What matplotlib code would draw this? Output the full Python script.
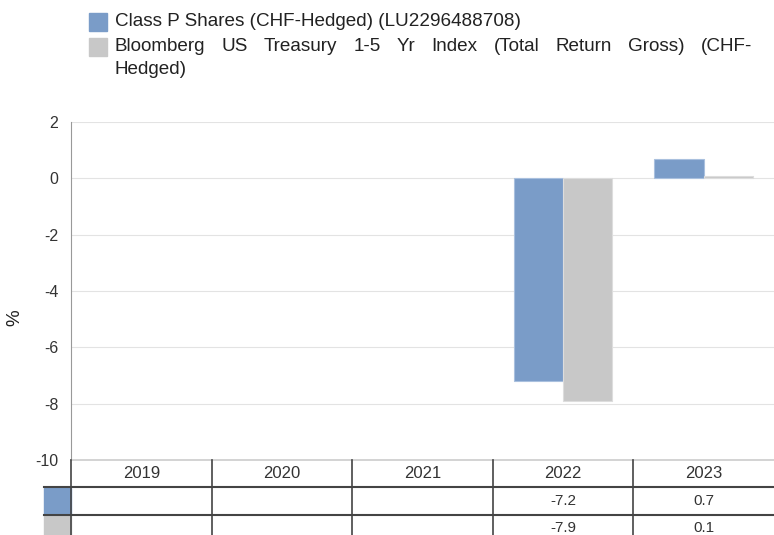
import numpy as np
import matplotlib.pyplot as plt
from matplotlib.patches import Rectangle

plt.rcParams['font.family'] = ['Liberation Sans', 'DejaVu Sans']

# data
years = ['2019', '2020', '2021', '2022', '2023']
fund_label = 'Class P Shares (CHF-Hedged) (LU2296488708)'
index_label = ['Bloomberg US Treasury 1-5 Yr Index (Total Return Gross) (CHF-', 'Hedged)']
fund_vals = [np.nan, np.nan, np.nan, -7.2, 0.7]
index_vals = [np.nan, np.nan, np.nan, -7.9, 0.1]
yticks = [2, 0, -2, -4, -6, -8, -10]

blue = '#7a9cc8'
grey = '#c8c8c8'
line_c = '#444444'

W, H = 774, 535
fig = plt.figure(figsize=(W / 100, H / 100), dpi=100)


def px(x0, y0, x1, y1):
    # pixel box (top-left origin) -> figure fraction rect
    return [x0 / W, 1 - y1 / H, (x1 - x0) / W, (y1 - y0) / H]


ax = fig.add_axes(px(71, 122, 774, 460))
x = np.arange(len(years))
bw = 0.35
ax.bar(x - bw / 2, fund_vals, bw, color=blue, edgecolor='#a9c0de', linewidth=0.8, zorder=3)
ax.bar(x + bw / 2, index_vals, bw, color=grey, edgecolor='#dddddd', linewidth=0.8, zorder=3)
ax.set_xlim(-0.5, len(years) - 0.5)
ax.set_ylim(-10, 2)
ax.set_yticks(yticks)
ax.set_yticklabels([str(v) for v in yticks], fontsize=11.5, color='#333333')
ax.set_xticks([])
ax.grid(axis='y', color='#e3e3e3', linewidth=0.8, zorder=0)
for s in ['top', 'right']:
    ax.spines[s].set_visible(False)
ax.spines['left'].set_color('#999999')
ax.spines['bottom'].set_color('#cccccc')
ax.spines['bottom'].set_linewidth(1.2)
ax.tick_params(axis='y', length=0, pad=9)
fig.text(15 / W, 1 - 318 / H, '%', rotation=90, fontsize=13.5, ha='center', va='center', color='#222222')

# table under the chart
tab = fig.add_axes(px(71, 460, 774, 542))
tab.set_xlim(-0.5, len(years) - 0.5)
tab.set_ylim(3, 0)
tab.axis('off')
for i, yr in enumerate(years):
    tab.text(i, 0.5, yr, ha='center', va='center', fontsize=12, color='#333333')
    for r, vals in enumerate([fund_vals, index_vals]):
        v = vals[i]
        if not np.isnan(v):
            tab.text(i, r + 1.5, f'{v:.1f}', ha='center', va='center', fontsize=11, color='#333333')
for b in np.arange(-0.5, len(years) - 1, 1.0):
    tab.plot([b, b], [0, 3], color=line_c, linewidth=1.2, clip_on=False)
sw = 27 / 140.6
for r in [1, 2]:
    tab.plot([-0.5 - sw, len(years) - 0.5], [r, r], color=line_c, linewidth=1.5, clip_on=False)
tab.add_patch(Rectangle((-0.5 - sw, 1.03), sw, 0.94, color=blue, clip_on=False))
tab.add_patch(Rectangle((-0.5 - sw, 2.03), sw, 0.94, color=grey, clip_on=False))

# legend drawn by hand
for yc, col in [(22, blue), (47, grey)]:
    fig.patches.append(Rectangle((89 / W, 1 - (yc + 9) / H), 18 / W, 18 / H, color=col,
                                 transform=fig.transFigure, figure=fig))
lfs = 13.6
fig.text(115 / W, 1 - 22 / H, fund_label, fontsize=lfs, va='center', color='#222222')

# justified first line of the long label, spread between x=115 and x=752
renderer = fig.canvas.get_renderer()
words = index_label[0].split(' ')
objs = [fig.text(0, 1 - 47 / H, w_, fontsize=lfs, va='center', color='#222222') for w_ in words]
widths = [o.get_window_extent(renderer).width for o in objs]
gap = (752 - 115 - sum(widths)) / (len(words) - 1)
xpos = 115
for o, wd in zip(objs, widths):
    o.set_x(xpos / W)
    xpos += wd + gap
fig.text(115 / W, 1 - 70 / H, index_label[1], fontsize=lfs, va='center', color='#222222')

fig.savefig('out.png', dpi=100)
